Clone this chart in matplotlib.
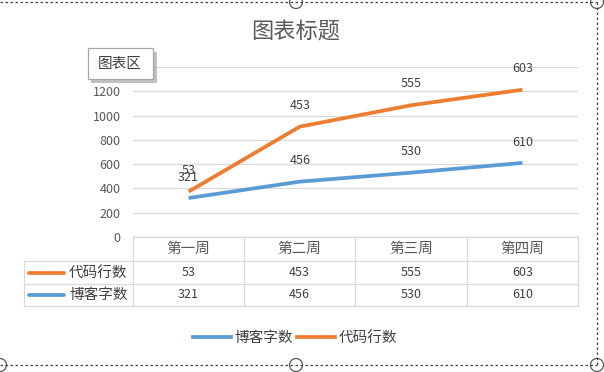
import matplotlib
matplotlib.use("Agg")
import matplotlib.pyplot as plt
from matplotlib.patches import Rectangle, Ellipse
from matplotlib.lines import Line2D
import numpy as np

plt.rcParams['font.family'] = ['Noto Sans CJK SC', 'DejaVu Sans']

categories = ['第一周', '第二周', '第三周', '第四周']
series_names = ['代码行数', '博客字数']
code_lines = [53, 453, 555, 603]
blog_words = [321, 456, 530, 610]
colors = {'代码行数': '#ED7D31', '博客字数': '#5B9BD5'}
title = '图表标题'
y_ticks = [0, 200, 400, 600, 800, 1000, 1200, 1400]

W, H = 604, 372
fig = plt.figure(figsize=(W / 100, H / 100), dpi=100)
fig.patch.set_facecolor('white')

def fx(px):
    return px / W

def fy(py):
    return 1 - py / H

# plot area
left, right, top, bottom = 133, 578, 67, 237
ax = fig.add_axes([fx(left), fy(bottom), fx(right - left), (bottom - top) / H])
x = np.arange(len(categories))
stacked = np.array(blog_words) + np.array(code_lines)

ax.plot(x, blog_words, color=colors['博客字数'], lw=2.7, solid_capstyle='butt', zorder=3)
ax.plot(x, stacked, color=colors['代码行数'], lw=2.7, solid_capstyle='butt', zorder=3)

for xi, yv, v in zip(x, blog_words, blog_words):
    ax.annotate(str(v), (xi, yv), xytext=(0, 15), textcoords='offset points',
                ha='center', va='center', fontsize=9, color='#404040')
for xi, yv, v in zip(x, stacked, code_lines):
    ax.annotate(str(v), (xi, yv), xytext=(0, 15.5), textcoords='offset points',
                ha='center', va='center', fontsize=9, color='#404040')

ax.set_xlim(-0.5, len(categories) - 0.5)
ax.set_ylim(0, 1400)
ax.set_yticks(y_ticks)
# the 1400 label is hidden behind the "图表区" tooltip in the reference
ax.set_yticklabels([str(t) if t != 1400 else '' for t in y_ticks])
ax.tick_params(axis='y', length=0, pad=9, labelsize=9, labelcolor='#595959')
ax.set_xticks([])
for s in ax.spines.values():
    s.set_visible(False)
ax.grid(axis='y', color='#D9D9D9', lw=0.9)
ax.set_axisbelow(True)
ax.patch.set_alpha(0)

# data table
line_c = '#D9D9D9'
rows_y = [237, 261, 284, 306]
col_x = [133, 244, 355, 467, 578]
def hline(y, x0, x1):
    fig.add_artist(Line2D([fx(x0), fx(x1)], [fy(y), fy(y)], color=line_c, lw=0.9))
def vline(xp, y0, y1):
    fig.add_artist(Line2D([fx(xp), fx(xp)], [fy(y0), fy(y1)], color=line_c, lw=0.9))

hline(rows_y[0], col_x[0], col_x[-1])
for yv in rows_y[1:]:
    hline(yv, 24, col_x[-1])
for xp in col_x:
    vline(xp, rows_y[0], rows_y[-1])
vline(24, rows_y[1], rows_y[-1])

centers = [(col_x[i] + col_x[i + 1]) / 2 for i in range(len(categories))]
for cx, cat in zip(centers, categories):
    fig.text(fx(cx), fy((rows_y[0] + rows_y[1]) / 2), cat, ha='center', va='center',
             fontsize=10.5, color='#595959')
table_rows = [('代码行数', code_lines), ('博客字数', blog_words)]
for r, (name, vals) in enumerate(table_rows):
    yc = (rows_y[r + 1] + rows_y[r + 2]) / 2
    fig.add_artist(Line2D([fx(29), fx(64)], [fy(yc), fy(yc)], color=colors[name], lw=2.7,
                          solid_capstyle='round'))
    fig.text(fx(69), fy(yc), name, ha='left', va='center', fontsize=10.5, color='#404040')
    for cx, v in zip(centers, vals):
        fig.text(fx(cx), fy(yc), str(v), ha='center', va='center', fontsize=9, color='#404040')

# legend
handles = [Line2D([], [], color=colors['博客字数'], lw=2.7),
           Line2D([], [], color=colors['代码行数'], lw=2.7)]
leg = fig.legend(handles, ['博客字数', '代码行数'], loc='center', ncol=2,
                 bbox_to_anchor=(fx(295), fy(338)), frameon=False, fontsize=10.5,
                 handlelength=2.6, handletextpad=0.25, columnspacing=0.3)
for t in leg.get_texts():
    t.set_color('#404040')

# title
fig.text(fx(296), fy(31), title, ha='center', va='center', fontsize=16, color='#595959')

# tooltip "图表区"
fig.add_artist(Rectangle((fx(91), fy(83)), fx(66), (83 - 52) / H, transform=fig.transFigure,
                         facecolor='#A6A6A6', edgecolor='none', alpha=0.7))
fig.add_artist(Rectangle((fx(88), fy(79)), fx(65), (79 - 48) / H, transform=fig.transFigure,
                         facecolor='white', edgecolor='#A6A6A6', lw=0.9))
fig.text(fx(120), fy(64), '图表区', ha='center', va='center', fontsize=10.5, color='#404040')

# selection frame decorations
dash = dict(color='#404040', lw=0.9, linestyle=(0, (2, 2)))
fig.add_artist(Line2D([0, fx(597)], [fy(2), fy(2)], **dash))
fig.add_artist(Line2D([0, fx(597)], [fy(365), fy(365)], **dash))
fig.add_artist(Line2D([fx(597), fx(597)], [fy(2), fy(365)], **dash))
for (cxp, cyp) in [(296, 2), (597, 2), (296, 365), (597, 365), (0, 365)]:
    fig.add_artist(Ellipse((fx(cxp), fy(cyp)), 13 / W, 13 / H, transform=fig.transFigure,
                           facecolor='white', edgecolor='#595959', lw=0.9))

fig.savefig('out.png', dpi=100, facecolor='white')
